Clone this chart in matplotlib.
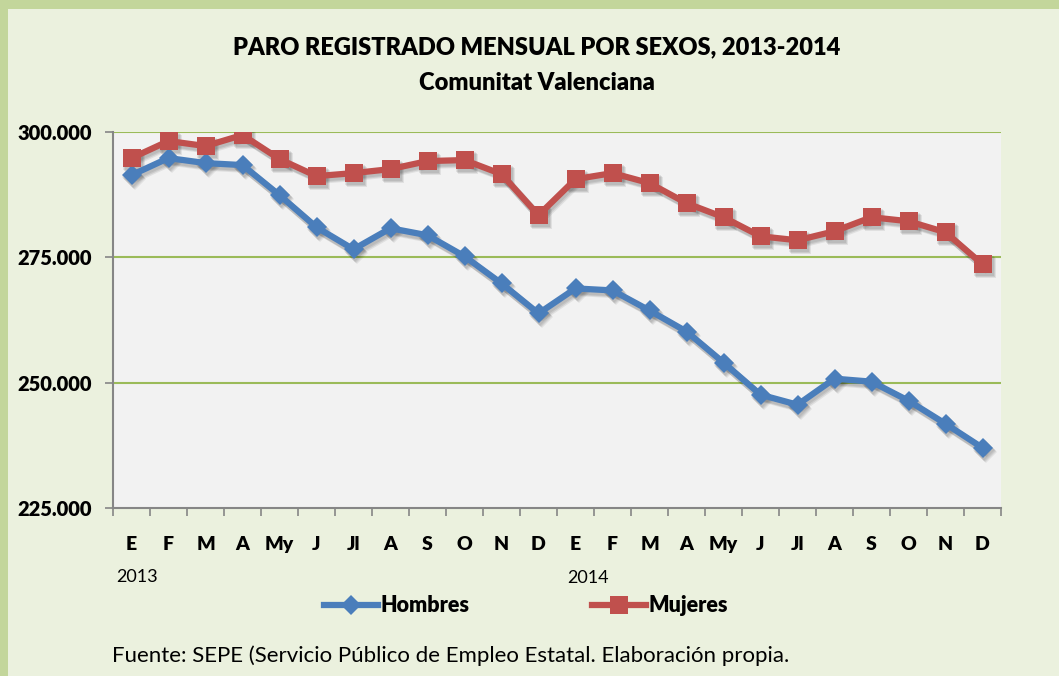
import matplotlib.pyplot as plt
from matplotlib.transforms import offset_copy
from matplotlib.patches import Rectangle
from matplotlib.lines import Line2D

meses = ["E", "F", "M", "A", "My", "J", "Jl", "A", "S", "O", "N", "D"] * 2
hombres = [291400, 294800, 293800, 293400, 287400, 281000, 276600, 280800,
           279400, 275200, 269800, 263800, 268800, 268400, 264400, 260200,
           254000, 247600, 245600, 250800, 250200, 246400, 241800, 237000]
mujeres = [294800, 298200, 297200, 299400, 294600, 291200, 291800, 292600,
           294200, 294400, 291600, 283400, 290600, 291800, 289800, 285800,
           283000, 279200, 278400, 280200, 283000, 282200, 280000, 273600]
yticks = [225000, 250000, 275000, 300000]
ytick_labels = ["225.000", "250.000", "275.000", "300.000"]

plt.rcParams['font.family'] = ['Lato', 'DejaVu Sans']
BOLD = "heavy"
W, H = 1059, 676
fig = plt.figure(figsize=(W / 100, H / 100), dpi=100, facecolor="#c3d69b")
fig.patches.append(Rectangle((8 / W, 0), 1, 1 - 9 / H, transform=fig.transFigure,
                             facecolor="#ebf1de", edgecolor="none", zorder=-5))

ax = fig.add_axes([113 / W, 168 / H, 888 / W, 376 / H])
ax.set_facecolor("#f2f2f2")

x = list(range(len(meses)))
series = [(hombres, "#4a7ebb", "D", 10.5), (mujeres, "#c0504d", "s", 13.5)]
# soft drop shadow like the Excel original
for dx, dy, a in [(3, -4, 0.07), (2, -3, 0.09), (1, -2, 0.08)]:
    tr = offset_copy(ax.transData, fig=fig, x=dx, y=dy, units="dots")
    for vals, c, m, ms in series:
        ax.plot(x, vals, color="k", alpha=a, lw=5.5, marker=m, ms=ms + 1,
                mew=0, transform=tr, zorder=2)
for vals, c, m, ms in series:
    ax.plot(x, vals, color=c, lw=4.5, marker=m, ms=ms, mew=0, zorder=3)

ax.set_xlim(-0.5, 23.5)
ax.set_ylim(225000, 300000)
ax.set_yticks(yticks)
ax.set_yticklabels(ytick_labels, fontsize=14.5, fontweight=BOLD)
for v in yticks[1:]:
    ax.axhline(v, color="#9bbb59", lw=1.5, zorder=1)

ax.set_xticks([i - 0.5 for i in range(25)])
ax.set_xticklabels([])
ax.set_xticks(x, minor=True)
ax.set_xticklabels(meses, minor=True, fontsize=14, fontweight=BOLD)
ax.tick_params(axis="x", which="minor", length=0, pad=20)
ax.tick_params(axis="x", which="major", length=6, color="#868686", width=1.2)
ax.tick_params(axis="y", length=6, color="#868686", width=1.2, pad=9)

for s in ["top", "right"]:
    ax.spines[s].set_visible(False)
for s in ["left", "bottom"]:
    ax.spines[s].set_color("#868686")
    ax.spines[s].set_linewidth(1.5)

fig.text(537 / W, 1 - 47 / H, "PARO REGISTRADO MENSUAL POR SEXOS, 2013-2014",
         ha="center", va="center", fontsize=17, fontweight=BOLD)
fig.text(537 / W, 1 - 83 / H, "Comunitat Valenciana",
         ha="center", va="center", fontsize=17, fontweight=BOLD)

fig.text(116 / W, 1 - 577 / H, "2013", ha="left", va="center", fontsize=13)
fig.text(567 / W, 1 - 578 / H, "2014", ha="left", va="center", fontsize=13)

h1 = Line2D([], [], color="#4a7ebb", lw=4.5, marker="D", ms=10.5, mew=0)
h2 = Line2D([], [], color="#c0504d", lw=4.5, marker="s", ms=13.5, mew=0)
leg = fig.legend([h1, h2], ["Hombres", "Mujeres"], loc="center",
                 bbox_to_anchor=(526 / W, 1 - 606 / H), ncol=2, frameon=False,
                 prop={"size": 15.5, "weight": BOLD}, handlelength=2.5,
                 handletextpad=0.1, columnspacing=5.7)

fig.text(112 / W, 1 - 656 / H,
         "Fuente: SEPE (Servicio Público de Empleo Estatal. Elaboración propia.",
         ha="left", va="center", fontsize=16)

fig.savefig("out.png", dpi=100, facecolor=fig.get_facecolor())
